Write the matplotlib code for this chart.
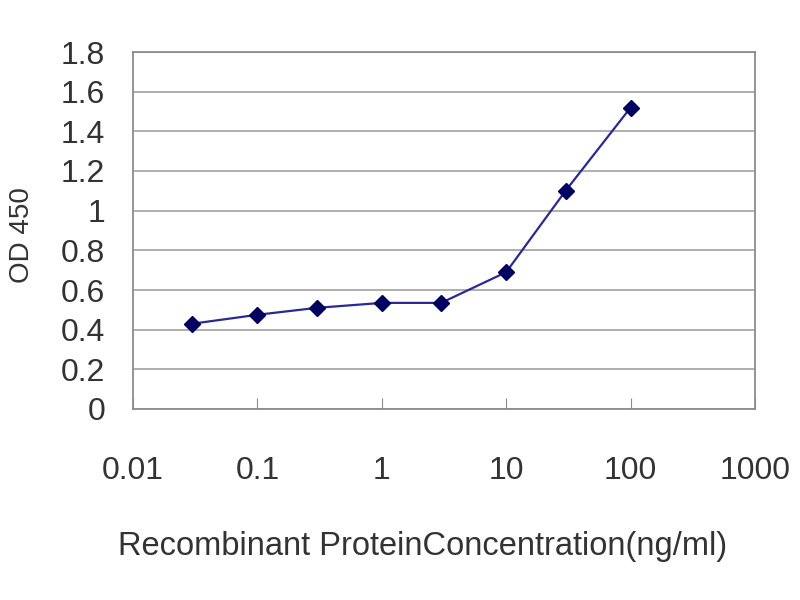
import matplotlib
matplotlib.use("Agg")
import matplotlib.pyplot as plt
from matplotlib.ticker import FixedLocator, FixedFormatter, NullLocator

concentration = [0.03, 0.1, 0.3, 1, 3, 10, 30, 100]
od450 = [0.43, 0.475, 0.51, 0.535, 0.535, 0.69, 1.10, 1.52]
x_ticks = [0.01, 0.1, 1, 10, 100, 1000]
x_tick_labels = ["0.01", "0.1", "1", "10", "100", "1000"]
y_ticks = [0, 0.2, 0.4, 0.6, 0.8, 1.0, 1.2, 1.4, 1.6, 1.8]
y_tick_labels = ["0", "0.2", "0.4", "0.6", "0.8", "1", "1.2", "1.4", "1.6", "1.8"]

plt.rcParams['font.family'] = ['Liberation Sans', 'DejaVu Sans']

fig = plt.figure(figsize=(8, 6), dpi=100)
ax = fig.add_axes([133/800, (600-409)/600, (755-133)/800, (409-52)/600])

ax.plot(concentration, od450, color="#2a2a90", linewidth=1.6,
        marker="D", markersize=8.5, markerfacecolor="#000060",
        markeredgecolor="#000060", zorder=3)

ax.set_xscale("log")
ax.set_xlim(0.01, 1000)
ax.set_ylim(0, 1.8)
ax.xaxis.set_major_locator(FixedLocator(x_ticks))
ax.xaxis.set_major_formatter(FixedFormatter(x_tick_labels))
ax.xaxis.set_minor_locator(NullLocator())
ax.yaxis.set_major_locator(FixedLocator(y_ticks))
ax.yaxis.set_major_formatter(FixedFormatter(y_tick_labels))

ax.grid(axis="y", color="#a8a8a8", linewidth=1.3)
ax.set_axisbelow(True)
for s in ax.spines.values():
    s.set_color("#8c8c8c")
    s.set_linewidth(1.3)

ax.tick_params(axis="x", direction="in", length=8, color="#8c8c8c",
               labelsize=23, pad=34, labelcolor="#333333")
ax.tick_params(axis="y", length=0, labelsize=23, pad=20, labelcolor="#333333")

ax.set_ylabel("OD 450", fontsize=20, color="#333333")
ax.yaxis.set_label_coords(-0.158, 0.487)
ax.set_xlabel("Recombinant ProteinConcentration(ng/ml)", fontsize=23.5, color="#333333")
ax.xaxis.set_label_coords(0.465, -0.343)

fig.savefig("out.png", dpi=100)
